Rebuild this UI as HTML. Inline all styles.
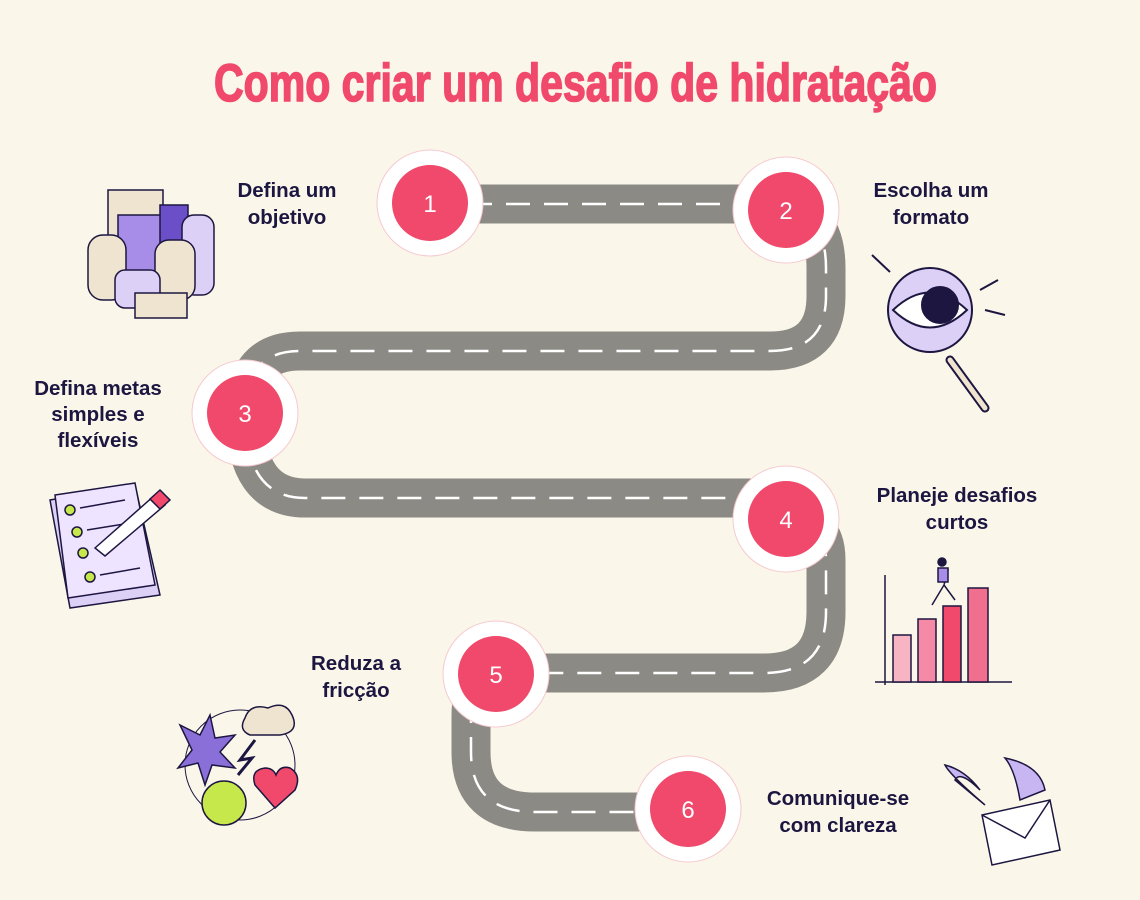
<!DOCTYPE html>
<html><head><meta charset="utf-8"><style>
html,body{margin:0;padding:0;background:#faf7ea;}
svg{display:block}
text{font-family:"Liberation Sans",sans-serif;}
.lb{font-weight:bold;font-size:20.5px;fill:#1c1640;text-anchor:middle}
.n{font-size:24px;fill:#fff;text-anchor:middle;font-family:"Liberation Sans Narrow","Liberation Sans",sans-serif}
</style></head><body>
<svg width="1140" height="900" viewBox="0 0 1140 900" xmlns="http://www.w3.org/2000/svg">
<rect width="1140" height="900" fill="#faf7ea"/>
<text x="214" y="101" textLength="723" lengthAdjust="spacingAndGlyphs" style="font-family:'Liberation Sans Narrow','Liberation Sans',sans-serif;font-weight:bold;font-size:53px;fill:#f0496b;stroke:#f0496b;stroke-width:1.6">Como criar um desafio de hidratação</text>

<g fill="none" stroke-linecap="butt">
<path d="M430,204 H766 Q826,204 826,268 V296 Q826,351 770,351 H300 Q245,351 245,413 Q245,498 305,498 H786 M786,519 Q826,519 826,560 V612 Q826,673 764,673 H496 M496,674 Q471,674 471,716 V752 Q471,812 535,812 H688" stroke="#8c8a84" stroke-width="39"/>
<path d="M430,204 H766 Q826,204 826,268 V296 Q826,351 770,351 H300 Q245,351 245,413 Q245,498 305,498 H786 M786,519 Q826,519 826,560 V612 Q826,673 764,673 H496 M496,674 Q471,674 471,716 V752 Q471,812 535,812 H688" stroke="#fff" stroke-width="2.5" stroke-dasharray="24 14"/>
</g>

<g>
<circle cx="430" cy="203" r="53" fill="#fff" stroke="#f6c9cf"/><circle cx="430" cy="203" r="38" fill="#f0496b"/><text class="n" x="430" y="212">1</text>
<circle cx="786" cy="210" r="53" fill="#fff" stroke="#f6c9cf"/><circle cx="786" cy="210" r="38" fill="#f0496b"/><text class="n" x="786" y="219">2</text>
<circle cx="245" cy="413" r="53" fill="#fff" stroke="#f6c9cf"/><circle cx="245" cy="413" r="38" fill="#f0496b"/><text class="n" x="245" y="422">3</text>
<circle cx="786" cy="519" r="53" fill="#fff" stroke="#f6c9cf"/><circle cx="786" cy="519" r="38" fill="#f0496b"/><text class="n" x="786" y="528">4</text>
<circle cx="496" cy="674" r="53" fill="#fff" stroke="#f6c9cf"/><circle cx="496" cy="674" r="38" fill="#f0496b"/><text class="n" x="496" y="683">5</text>
<circle cx="688" cy="809" r="53" fill="#fff" stroke="#f6c9cf"/><circle cx="688" cy="809" r="38" fill="#f0496b"/><text class="n" x="688" y="818">6</text>
</g>

<text class="lb" x="287" y="197">Defina um</text><text class="lb" x="287" y="224">objetivo</text>
<text class="lb" x="931" y="197">Escolha um</text><text class="lb" x="931" y="224">formato</text>
<text class="lb" x="98" y="395">Defina metas</text><text class="lb" x="98" y="421">simples e</text><text class="lb" x="98" y="447">flexíveis</text>
<text class="lb" x="957" y="502">Planeje desafios</text><text class="lb" x="957" y="529">curtos</text>
<text class="lb" x="356" y="670">Reduza a</text><text class="lb" x="356" y="697">fricção</text>
<text class="lb" x="838" y="805">Comunique-se</text><text class="lb" x="838" y="832">com clareza</text>

<g stroke="#1c1640" stroke-width="1.5">
<rect x="108" y="190" width="55" height="100" fill="#efe4cf"/>
<rect x="118" y="215" width="50" height="70" fill="#a88de8"/>
<rect x="160" y="205" width="28" height="60" fill="#6a4fc8"/>
<rect x="182" y="215" width="32" height="80" rx="12" fill="#ddd0f7"/>
<rect x="88" y="235" width="38" height="65" rx="15" fill="#efe4cf"/>
<rect x="155" y="240" width="40" height="60" rx="14" fill="#efe4cf"/>
<rect x="115" y="270" width="45" height="38" rx="10" fill="#ddd0f7"/>
<rect x="135" y="293" width="52" height="25" fill="#efe4cf"/>
</g>
<g stroke="#1c1640" stroke-width="2">
<line x1="950" y1="360" x2="985" y2="408" stroke-width="9" stroke-linecap="round"/>
<line x1="950" y1="360" x2="985" y2="408" stroke="#efe4cf" stroke-width="5" stroke-linecap="round"/>
<circle cx="930" cy="310" r="42" fill="#ddd0f7"/>
<path d="M893,310 Q930,275 967,310 Q930,345 893,310Z" fill="#fff"/>
<circle cx="940" cy="305" r="18" fill="#1c1640"/>
<line x1="872" y1="255" x2="890" y2="272"/><line x1="985" y1="310" x2="1005" y2="315"/><line x1="980" y1="290" x2="998" y2="280"/>
</g>
<g stroke="#1c1640" stroke-width="1.5">
<path d="M50,500 L135,485 L160,595 L70,608Z" fill="#ddd0f7"/>
<path d="M55,495 L135,483 L155,585 L68,598Z" fill="#efe4ff"/>
<circle cx="70" cy="510" r="5" fill="#c6e84b"/><circle cx="77" cy="532" r="5" fill="#c6e84b"/><circle cx="83" cy="553" r="5" fill="#c6e84b"/><circle cx="90" cy="577" r="5" fill="#c6e84b"/>
<line x1="80" y1="508" x2="125" y2="500"/><line x1="87" y1="530" x2="130" y2="523"/><line x1="100" y1="575" x2="140" y2="568"/>
<path d="M95,548 L155,495 L165,505 L105,556Z" fill="#fff"/>
<path d="M150,499 L160,490 L170,500 L160,509Z" fill="#f0496b"/>
</g>
<g stroke="#1c1640" stroke-width="1.5">
<line x1="885" y1="575" x2="885" y2="685"/><line x1="875" y1="682" x2="1012" y2="682"/>
<rect x="893" y="635" width="18" height="47" fill="#f7b5c4"/>
<rect x="918" y="619" width="18" height="63" fill="#f58aa6"/>
<rect x="943" y="606" width="18" height="76" fill="#f0496b"/>
<rect x="968" y="588" width="20" height="94" fill="#f06f8e"/>
<circle cx="942" cy="562" r="4" fill="#1c1640"/><path d="M938,568 L948,570 L944,585 L932,605 M944,585 L955,600" fill="none"/>
<rect x="938" y="568" width="10" height="14" fill="#a88de8"/>
</g>
<g stroke="#1c1640" stroke-width="1.5">
<circle cx="240" cy="765" r="55" fill="none" stroke-width="1"/>
<path d="M245,718 Q250,703 268,708 Q285,700 292,715 Q300,732 280,735 L250,735 Q238,730 245,718Z" fill="#efe4cf"/>
<path d="M180,725 L200,735 L210,715 L215,738 L235,735 L220,752 L235,768 L212,765 L205,785 L198,763 L178,768 L192,750Z" fill="#8b6fd9"/>
<path d="M255,740 L240,760 L252,758 L238,775" fill="none" stroke-width="3"/>
<circle cx="224" cy="803" r="22" fill="#c6e84b"/>
<path d="M275,808 L255,785 Q250,770 265,768 Q273,768 276,775 Q280,765 290,768 Q302,775 295,790Z" fill="#f0496b"/>
</g>
<g stroke="#1c1640" stroke-width="1.5">
<path d="M985,805 Q950,775 945,765 Q965,770 980,790 Q960,770 955,780Z" fill="#c8b6f3"/>
<path d="M1020,800 Q1015,770 1005,758 Q1040,765 1045,790Z" fill="#c8b6f3"/>
<path d="M982,815 L1050,800 L1060,850 L992,865Z" fill="#fff"/>
<path d="M982,815 L1025,838 L1050,800" fill="none"/>
</g>
</svg>
</body></html>
